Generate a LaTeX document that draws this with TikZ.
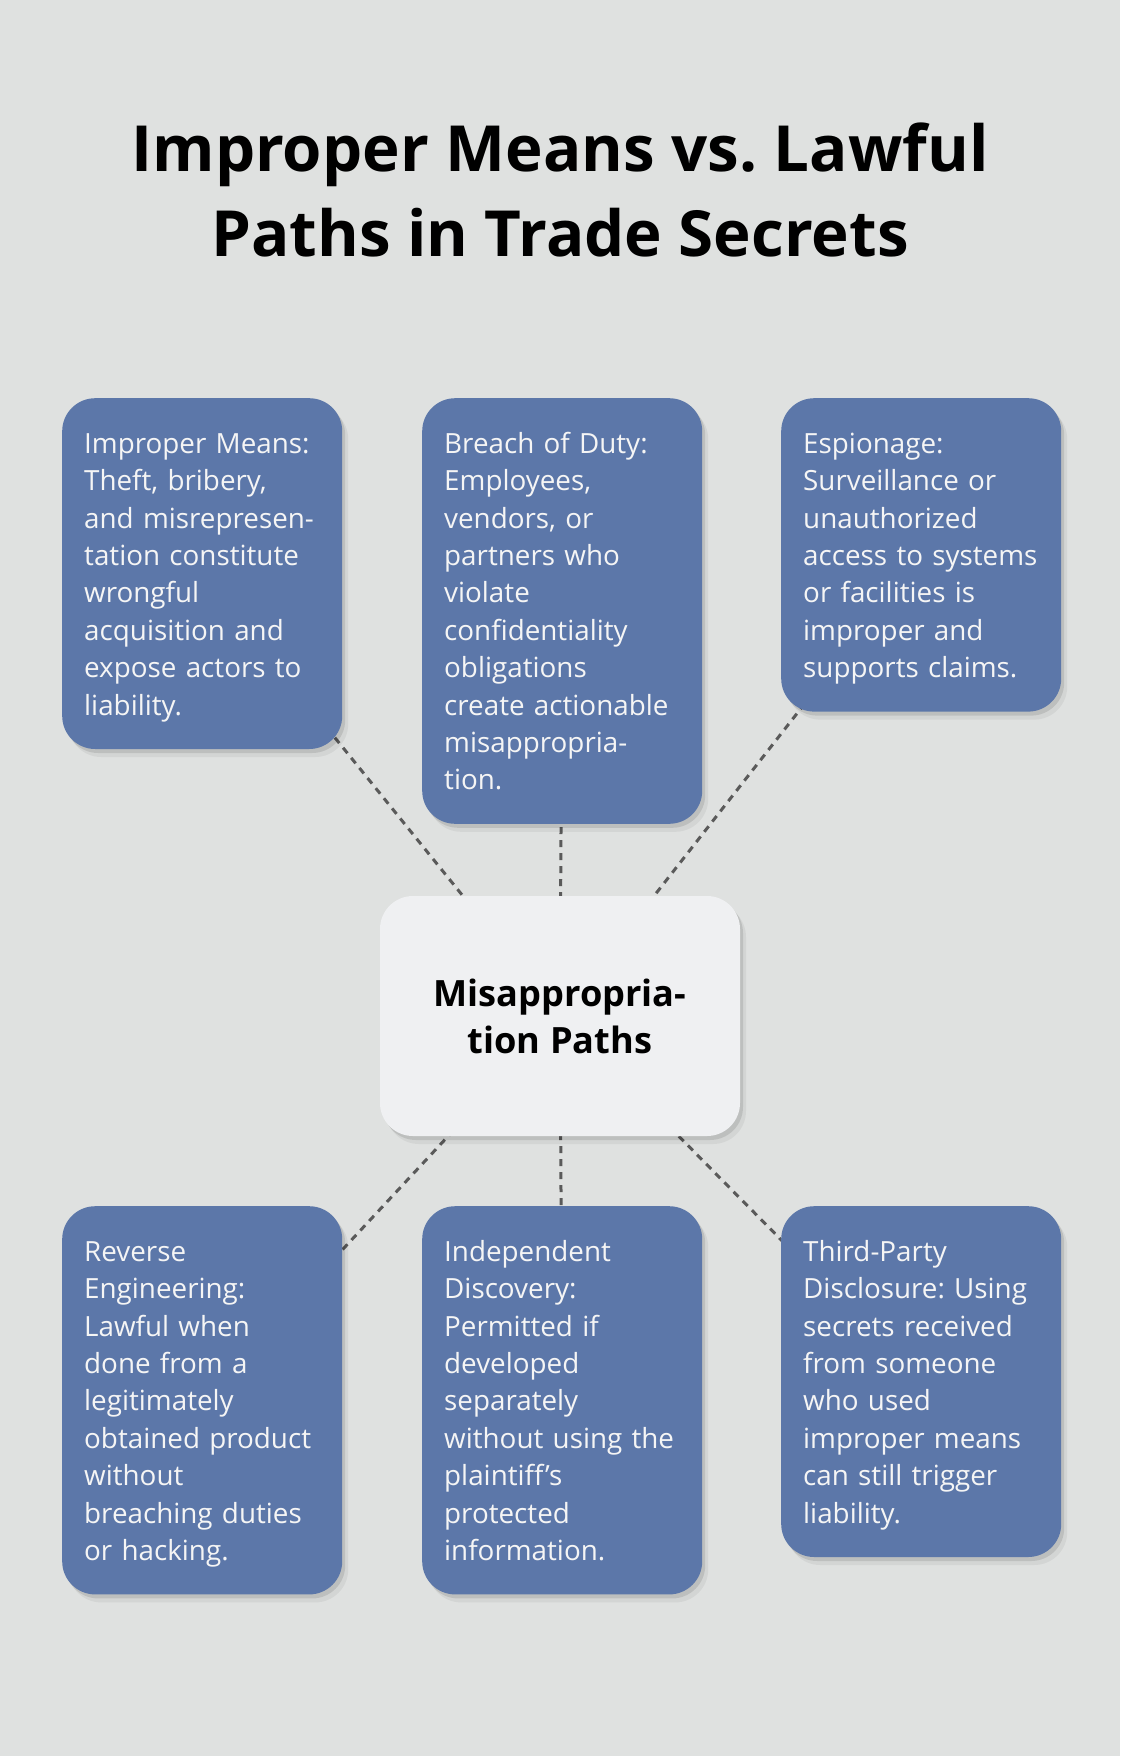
\documentclass[tikz,border=0pt]{standalone}
\usepackage{fontspec}
\setmainfont{Open Sans}
\usetikzlibrary{shadows}
\definecolor{pageGrey}{RGB}{223,225,224}
\definecolor{cardBlue}{RGB}{92,119,169}
\definecolor{hubWhite}{RGB}{239,240,242}
\definecolor{dashGrey}{RGB}{90,90,90}
\pgfdeclarelayer{bg}
\pgfdeclarelayer{links}
\pgfsetlayers{bg,links,main}
\frenchspacing

\begin{document}
\begin{tikzpicture}[x=1pt, y=-1pt,
  softshadow/.style={
    drop shadow={shadow xshift=3pt, shadow yshift=-4pt, opacity=.10, fill=black},
    drop shadow={shadow xshift=6pt, shadow yshift=-8pt, opacity=.05, fill=black}},
  card/.style={fill=cardBlue, rounded corners=33pt, text=white!96!black,
    text width=236pt, align=left, inner xsep=22pt, inner ysep=23pt,
    anchor=north west, font=\fontsize{27.8}{37.4}\selectfont,
    execute at begin node=\rule{0pt}{32pt},
    execute at end node=\rule[-11pt]{0pt}{11pt}, softshadow},
  hub/.style={fill=hubWhite, rounded corners=33pt, minimum width=360pt,
    minimum height=240pt, align=center,
    font=\bfseries\fontsize{36.2}{47}\selectfont, softshadow},
  link/.style={draw=dashGrey, line width=3pt, dash pattern=on 7pt off 6pt},
]
  \begin{pgfonlayer}{bg}
    \fill[pageGrey] (0,0) rectangle (1120,1756);
  \end{pgfonlayer}

  \node[align=center, font=\bfseries\fontsize{63.6}{85}\selectfont] (title) at (560,190)
    {Improper Means vs. Lawful\\Paths in Trade Secrets};

  \node[hub] (hub) at (560,1016) {Misappropria-\\tion Paths};

  \node[card] (imp) at (62,398) {Improper Means:\\ Theft, bribery,\\ and misrepresen-\\ tation constitute\\ wrongful\\ acquisition and\\ expose actors to\\ liability.};
  \node[card] (breach) at (422,398) {Breach of Duty:\\ Employees,\\ vendors, or\\ partners who\\ violate\\ confidentiality\\ obligations\\ create actionable\\ misappropria-\\ tion.};
  \node[card] (esp) at (781,398) {Espionage:\\ Surveillance or\\ unauthorized\\ access to systems\\ or facilities is\\ improper and\\ supports claims.};
  \node[card] (rev) at (62,1206) {Reverse\\ Engineering:\\ Lawful when\\ done from a\\ legitimately\\ obtained product\\ without\\ breaching duties\\ or hacking.};
  \node[card] (indep) at (422,1206) {Independent\\ Discovery:\\ Permitted if\\ developed\\ separately\\ without using the\\ plaintiff’s\\ protected\\ information.};
  \node[card] (third) at (781,1206) {Third-Party\\ Disclosure: Using\\ secrets received\\ from someone\\ who used\\ improper means\\ can still trigger\\ liability.};

  % dashed links run centre to centre, under the boxes
  \begin{pgfonlayer}{links}
    \foreach \c in {imp,breach,esp,rev,indep,third}
      \draw[link] (hub.center) -- (\c.center);
  \end{pgfonlayer}
\end{tikzpicture}
\end{document}
